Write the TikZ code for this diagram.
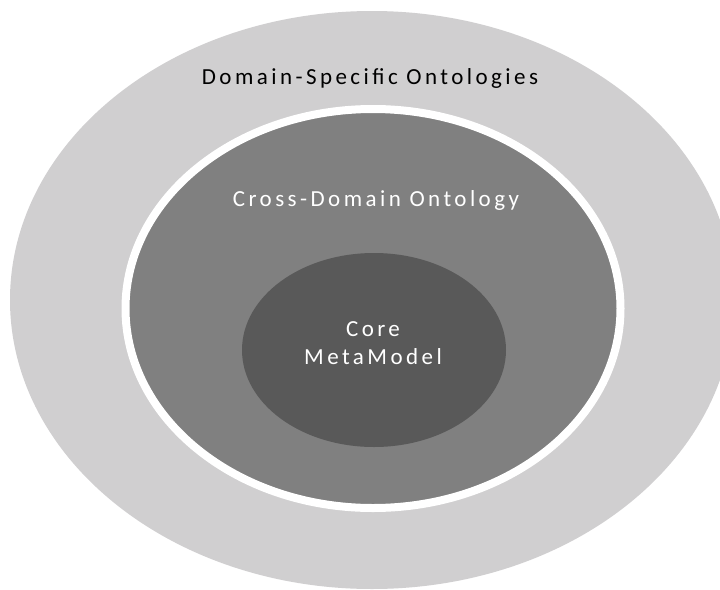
\documentclass[tikz,border=0pt]{standalone}
\usepackage{fontspec}
\setmainfont{Carlito}
\usetikzlibrary{shapes.geometric,positioning}
\definecolor{outergray}{HTML}{D0CFD0}
\definecolor{midgray}{HTML}{808080}
\definecolor{coregray}{HTML}{595959}
\tikzstyle{ring}=[ellipse, inner sep=0pt, outer sep=0pt]
\tikzstyle{lbl}=[inner sep=0pt, align=center, font=\fontsize{23}{28}\selectfont\addfontfeatures{LetterSpace=15}]

\begin{document}
\begin{tikzpicture}[x=1pt,y=-1pt]
	\useasboundingbox (0,0) rectangle (720,589);
	\clip (0,0) rectangle (720,589);
	\fill[white] (0,0) rectangle (720,589);
	
	\node[ring,fill=outergray,minimum width=724,minimum height=578](dso) at (372,300){};
	\node[ring,fill=midgray,draw=white,line width=8,minimum width=495,minimum height=399](cdo) at (373,308.5){};
	\node[ring,fill=coregray,minimum width=264,minimum height=194](core) at (374,350){};
	
	\node[lbl,text=black](dsolbl) at (370,78){Domain-Specific Ontologies};
	\node[lbl,text=white](cdolbl) at (376,200){Cross-Domain Ontology};
	\node[lbl,text=white](corelbl) at (373,343){Core\\MetaModel};
\end{tikzpicture}
\end{document}
